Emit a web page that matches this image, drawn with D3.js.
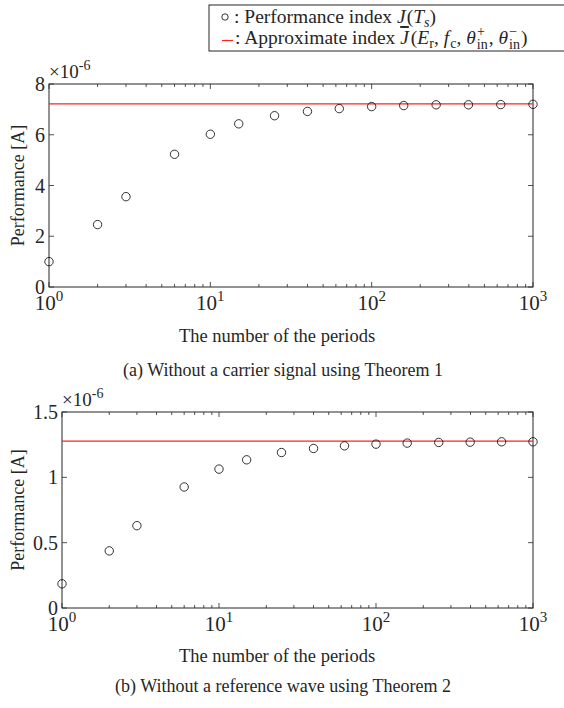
<!DOCTYPE html>
<html>
<head>
<meta charset="UTF-8">
<title>Performance</title>
<script src="https://cdn.jsdelivr.net/npm/d3@7"></script>
<style>
  body { margin: 0; background: #fff; }
  svg text { font-family: "Liberation Serif", "Times New Roman", serif; fill: #262626; }
</style>
</head>
<body>
<svg id="chart" width="564" height="708"></svg>
<script>
// number of periods (same for both panels)
const periods = [1, 2, 3, 6, 10, 15, 25, 40, 63, 100, 158, 251, 398, 631, 1000];
// panel (a), values in 1e-6 A
const perfA = [1.0, 2.46, 3.56, 5.23, 6.02, 6.43, 6.75, 6.92, 7.03, 7.11, 7.15, 7.18, 7.18, 7.19, 7.2];
const approxA = 7.22;
const yTicksA = [0, 2, 4, 6, 8];
// panel (b)
const perfB = [0.185, 0.437, 0.63, 0.926, 1.063, 1.134, 1.19, 1.221, 1.241, 1.254, 1.262, 1.267, 1.269, 1.272, 1.272];
const approxB = 1.277;
const yTicksB = [0, 0.5, 1, 1.5];
const xTicks = [1, 10, 100, 1000];

const svg = d3.select('#chart');
const axisColor = '#262626';

function panel(opt) {
  const x = d3.scaleLog().domain([1, 1000]).range([opt.left, opt.right]);
  const y = d3.scaleLinear().domain(opt.ydom).range([opt.bottom, opt.top]);
  const g = svg.append('g');

  // minor + major x ticks, bottom and top, pointing inward
  const minor = [];
  for (let d = 1; d < 1000; d *= 10) for (let k = 2; k <= 9; k++) minor.push(d * k);
  [[opt.bottom, -1], [opt.top, 1]].forEach(([yy, dir]) => {
    g.selectAll(null).data(minor).enter().append('line')
      .attr('x1', d => x(d)).attr('x2', d => x(d))
      .attr('y1', yy).attr('y2', yy + dir * 3)
      .attr('stroke', axisColor).attr('stroke-width', 0.8);
    g.selectAll(null).data(xTicks).enter().append('line')
      .attr('x1', d => x(d)).attr('x2', d => x(d))
      .attr('y1', yy).attr('y2', yy + dir * 5)
      .attr('stroke', axisColor).attr('stroke-width', 0.8);
  });
  // y ticks left and right
  [[opt.left, 1], [opt.right, -1]].forEach(([xx, dir]) => {
    g.selectAll(null).data(opt.yticks).enter().append('line')
      .attr('x1', xx).attr('x2', xx + dir * 5)
      .attr('y1', d => y(d)).attr('y2', d => y(d))
      .attr('stroke', axisColor).attr('stroke-width', 0.8);
  });

  // box
  g.append('rect')
    .attr('x', opt.left).attr('y', opt.top)
    .attr('width', opt.right - opt.left).attr('height', opt.bottom - opt.top)
    .attr('fill', 'none').attr('stroke', axisColor).attr('stroke-width', 1);

  // y tick labels
  g.selectAll(null).data(opt.yticks).enter().append('text')
    .attr('x', opt.left - 4).attr('y', d => y(d) + 7)
    .attr('text-anchor', 'end').attr('font-size', 20)
    .text(d => d);

  // x tick labels 10^n
  const xl = g.selectAll(null).data(xTicks).enter().append('text')
    .attr('x', d => x(d)).attr('y', opt.bottom + 23)
    .attr('text-anchor', 'middle').attr('font-size', 21);
  xl.append('tspan').text('10');
  xl.append('tspan').attr('dy', -9).attr('font-size', 15).text(d => Math.round(Math.log10(d)));

  // exponent label
  const ex = g.append('text').attr('x', opt.left).attr('y', opt.top - 6).attr('font-size', 19);
  ex.append('tspan').text('×10');
  ex.append('tspan').attr('dy', -8).attr('font-size', 14).text('-6');

  // axis labels
  g.append('text')
    .attr('transform', `translate(24,${(opt.top + opt.bottom) / 2}) rotate(-90)`)
    .attr('text-anchor', 'middle').attr('font-size', 18)
    .text('Performance [A]');
  g.append('text')
    .attr('x', 277).attr('y', opt.labelY)
    .attr('text-anchor', 'middle').attr('font-size', 18.5)
    .text('The number of the periods');
  g.append('text')
    .attr('x', 283).attr('y', opt.captionY)
    .attr('text-anchor', 'middle').attr('font-size', 18)
    .text(opt.caption);

  // approximate line
  g.append('line')
    .attr('x1', opt.left).attr('x2', opt.right)
    .attr('y1', y(opt.approx)).attr('y2', y(opt.approx))
    .attr('stroke', '#ff2020').attr('stroke-width', 1.2);

  // markers
  g.selectAll(null).data(periods).enter().append('circle')
    .attr('cx', d => x(d)).attr('cy', (d, i) => y(opt.vals[i]))
    .attr('r', 4.2).attr('fill', 'none')
    .attr('stroke', '#000').attr('stroke-width', 0.8);
}

panel({ left: 49, right: 533, top: 84, bottom: 287, ydom: [0, 8], yticks: yTicksA,
  vals: perfA, approx: approxA, labelY: 342, captionY: 376,
  caption: '(a) Without a carrier signal using Theorem 1' });
panel({ left: 62, right: 533, top: 412, bottom: 608, ydom: [0, 1.5], yticks: yTicksB,
  vals: perfB, approx: approxB, labelY: 662, captionY: 692,
  caption: '(b) Without a reference wave using Theorem 2' });

// legend
const lg = svg.append('g');
lg.append('rect').attr('x', 209).attr('y', 5).attr('width', 362).attr('height', 46)
  .attr('fill', '#fff').attr('stroke', axisColor).attr('stroke-width', 1);
lg.append('circle').attr('cx', 225).attr('cy', 17).attr('r', 3.2)
  .attr('fill', 'none').attr('stroke', '#000').attr('stroke-width', 0.8);
const t1 = lg.append('text').attr('x', 234).attr('y', 23).attr('font-size', 19.5);
t1.append('tspan').text(': Performance index ');
t1.append('tspan').attr('font-style', 'italic').text('J');
t1.append('tspan').attr('dx', 1).text('(');
t1.append('tspan').attr('font-style', 'italic').text('T');
t1.append('tspan').attr('font-style', 'italic').attr('font-size', 14).attr('dy', 4).text('s');
t1.append('tspan').attr('dy', -4).text(')');

lg.append('line').attr('x1', 222).attr('x2', 233).attr('y1', 40.5).attr('y2', 40.5)
  .attr('stroke', '#ff2020').attr('stroke-width', 1.2);
const t2 = lg.append('text').attr('x', 235).attr('y', 44).attr('font-size', 19.5);
t2.append('tspan').text(': Approximate index ');
t2.append('tspan').attr('font-style', 'italic').attr('text-decoration', 'overline').text('J');
t2.append('tspan').attr('dx', 2).text('(');
t2.append('tspan').attr('font-style', 'italic').text('E');
t2.append('tspan').attr('font-size', 14).attr('dy', 4).text('r');
t2.append('tspan').attr('dy', -4).text(',');
t2.append('tspan').attr('dx', 5).attr('font-style', 'italic').text('f');
t2.append('tspan').attr('font-size', 14).attr('dx', 1).attr('dy', 4).text('c');
t2.append('tspan').attr('dy', -4).text(',');
t2.append('tspan').attr('dx', 5).attr('font-style', 'italic').text('θ');
t2.append('tspan').attr('font-size', 14).attr('dx', 1).attr('dy', -8).text('+');
t2.append('tspan').attr('font-size', 14).attr('dx', -8).attr('dy', 13).text('in');
t2.append('tspan').attr('dx', 1).attr('dy', -5).text(',');
t2.append('tspan').attr('dx', 5).attr('font-style', 'italic').text('θ');
t2.append('tspan').attr('font-size', 14).attr('dx', 1).attr('dy', -8).text('−');
t2.append('tspan').attr('font-size', 14).attr('dx', -8).attr('dy', 13).text('in');
t2.append('tspan').attr('dx', 1).attr('dy', -5).text(')');
</script>
</body>
</html>
